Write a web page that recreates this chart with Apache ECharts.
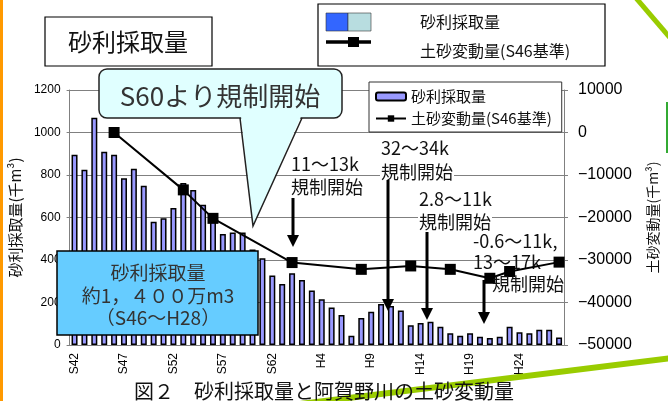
<!DOCTYPE html>
<html>
<head>
<meta charset="utf-8">
<script src="https://cdn.jsdelivr.net/npm/echarts@6/dist/echarts.min.js"></script>
<style>
  html, body { margin: 0; padding: 0; background: #fff; }
  #chart { width: 668px; height: 401px; }
</style>
</head>
<body>
<div id="chart"></div>
<script>
// 年度 S42〜H28
var years = ['S42', 'S43', 'S44', 'S45', 'S46', 'S47', 'S48', 'S49', 'S50', 'S51',
  'S52', 'S53', 'S54', 'S55', 'S56', 'S57', 'S58', 'S59', 'S60', 'S61',
  'S62', 'S63', 'H1', 'H2', 'H3', 'H4', 'H5', 'H6', 'H7', 'H8',
  'H9', 'H10', 'H11', 'H12', 'H13', 'H14', 'H15', 'H16', 'H17', 'H18',
  'H19', 'H20', 'H21', 'H22', 'H23', 'H24', 'H25', 'H26', 'H27', 'H28']

// 砂利採取量 (千m3)
var gravel = [895, 825, 1070, 910, 895, 785, 830, 750, 580, 597,
  645, 762, 730, 660, 600, 522, 530, 530, 450, 408,
  327, 287, 338, 306, 256, 215, 177, 141, 44, 127,
  157, 193, 184, 162, 93, 104, 110, 86, 55, 44,
  55, 39, 33, 39, 86, 60, 55, 72, 72, 35]

// 土砂変動量 (S46基準, 千m3) 測量年のみ
var sedimentYears = ['S46', 'S53', 'S56', 'H1', 'H8', 'H13', 'H17', 'H21', 'H23', 'H28']
var sedimentValues = [0, -13500, -20200, -30600, -32200, -31400, -32200, -34300, -32700, -30500]

var sediment = years.map(function (y) {
  var k = sedimentYears.indexOf(y)
  return k < 0 ? null : sedimentValues[k]
})

var jp = '"Noto Sans CJK JP", sans-serif'
var num = '"Liberation Sans", Arial, sans-serif'

function arrow (x, y1, y2) {
  return [
    { type: 'line', z: 120, shape: { x1: x, y1: y1, x2: x, y2: y2 - 10 }, style: { stroke: '#000', lineWidth: 3 } },
    { type: 'polygon', z: 120, shape: { points: [[x - 6, y2 - 12], [x + 6, y2 - 12], [x, y2]] }, style: { fill: '#000' } }
  ]
}

function label (text, x, y, bg, z) {
  var st = { text: text, fontSize: 18, fontFamily: jp, fill: '#111', textVerticalAlign: 'middle' }
  if (bg) {
    st.backgroundColor = '#fff'
    st.padding = [0, 1]
  }
  return { type: 'text', z: z || 110, x: x, y: y, style: st }
}

var graphics = [
  // 左端のオレンジ線
  { type: 'rect', z: 100, shape: { x: 0, y: 0, width: 3, height: 401 }, style: { fill: '#ff9900' } },
  // 緑の装飾線
  { type: 'line', z: 100, shape: { x1: 636, y1: -2, x2: 672, y2: 40 }, style: { stroke: '#99cc00', lineWidth: 5 } },
  { type: 'line', z: 100, shape: { x1: 667, y1: 102, x2: 667, y2: 153 }, style: { stroke: '#33aa33', lineWidth: 2 } },
  { type: 'line', z: 100, shape: { x1: 300, y1: 404, x2: 672, y2: 358 }, style: { stroke: '#99cc00', lineWidth: 6 } },

  // 図タイトル
  {
    type: 'text', z: 110, x: 324, y: 391,
    style: { text: '図２　砂利採取量と阿賀野川の土砂変動量', fontSize: 20, fontFamily: jp, fill: '#111', textAlign: 'center', textVerticalAlign: 'middle' }
  },

  // 左上の見出し
  { type: 'rect', z: 100, shape: { x: 45, y: 17, width: 167, height: 49 }, style: { fill: '#fff', stroke: '#000', lineWidth: 1.2 } },
  { type: 'text', z: 101, x: 128, y: 42, style: { text: '砂利採取量', fontSize: 24, fontFamily: jp, fill: '#111', textAlign: 'center', textVerticalAlign: 'middle' } },

  // 右上の凡例
  { type: 'rect', z: 100, shape: { x: 318, y: 4, width: 287, height: 62 }, style: { fill: '#fff', stroke: '#000', lineWidth: 1.2 } },
  { type: 'rect', z: 101, shape: { x: 326, y: 13, width: 22, height: 18 }, style: { fill: '#3366ff', stroke: '#333', lineWidth: 0.6 } },
  { type: 'rect', z: 101, shape: { x: 348, y: 13, width: 23, height: 18 }, style: { fill: '#b8dde0', stroke: '#333', lineWidth: 0.6 } },
  { type: 'line', z: 101, shape: { x1: 326, y1: 42, x2: 371, y2: 42 }, style: { stroke: '#000', lineWidth: 3.5 } },
  { type: 'rect', z: 102, shape: { x: 348, y: 37, width: 11, height: 10 }, style: { fill: '#000' } },
  { type: 'text', z: 101, x: 420, y: 22, style: { text: '砂利採取量', fontSize: 16, fontFamily: jp, fill: '#111', textVerticalAlign: 'middle' } },
  { type: 'text', z: 101, x: 420, y: 51, style: { text: '土砂変動量(S46基準)', fontSize: 16, fontFamily: jp, fill: '#111', textVerticalAlign: 'middle' } },

  // 吹き出し
  { type: 'rect', z: 105, shape: { x: 99, y: 69, width: 243, height: 49, r: 8 }, style: { fill: '#e0ffff', stroke: '#222', lineWidth: 1.5 } },
  { type: 'polygon', z: 106, shape: { points: [[241, 116.5], [301, 116.5], [253, 226]] }, style: { fill: '#e0ffff' } },
  { type: 'polyline', z: 106, shape: { points: [[240, 118], [253, 226], [302, 118]] }, style: { stroke: '#222', lineWidth: 1.5, fill: null } },
  { type: 'text', z: 107, x: 220, y: 96, style: { text: 'S60より規制開始', fontSize: 26, fontFamily: jp, fill: '#333', textAlign: 'center', textVerticalAlign: 'middle' } },

  // 水色の総量ボックス
  { type: 'rect', z: 105, shape: { x: 57, y: 251, width: 201, height: 84 }, style: { fill: '#66ccff', stroke: '#000', lineWidth: 1.5 } },
  { type: 'text', z: 106, x: 158, y: 273, style: { text: '砂利採取量', fontSize: 19, fontFamily: jp, fill: '#333', textAlign: 'center', textVerticalAlign: 'middle' } },
  { type: 'text', z: 106, x: 158, y: 296, style: { text: '約1，４００万m3', fontSize: 19, fontFamily: jp, fill: '#333', textAlign: 'center', textVerticalAlign: 'middle' } },
  { type: 'text', z: 106, x: 158, y: 318, style: { text: '（S46～H28）', fontSize: 19, fontFamily: jp, fill: '#333', textAlign: 'center', textVerticalAlign: 'middle' } },

  // 規制開始の注記
  label('11～13k', 290, 164, true),
  label('規制開始', 290, 187, true),
  label('32～34k', 380, 148, true),
  label('規制開始', 380, 172, true),
  label('2.8～11k', 418, 199, true),
  label('規制開始', 418, 222, true),
  label('-0.6～11k,', 473, 241, false),
  label('13～17k', 473, 262, false, 1),
  label('規制開始', 492, 284, false)
].concat(arrow(293, 198, 247), arrow(388, 180, 311), arrow(427, 232, 320), arrow(484, 280, 324))

var chart = echarts.init(document.getElementById('chart'))
chart.setOption({
  animation: false,
  textStyle: { fontFamily: num },
  grid: { left: 68, right: 100, top: 90, bottom: 56 },
  legend: {
    orient: 'vertical',
    left: 369,
    top: 82,
    itemWidth: 30,
    itemHeight: 8,
    itemGap: 7,
    padding: [7, 10, 6, 6],
    backgroundColor: '#fff',
    borderColor: '#333',
    borderWidth: 1,
    textStyle: { fontSize: 15, fontFamily: jp, color: '#111' },
    data: ['砂利採取量', '土砂変動量(S46基準)']
  },
  xAxis: {
    type: 'category',
    data: years,
    axisLine: { lineStyle: { color: '#808080' } },
    axisTick: { show: false },
    axisLabel: { interval: 4, rotate: 90, fontSize: 12, color: '#000', margin: 8, fontFamily: num }
  },
  yAxis: [
    {
      type: 'value',
      min: 0,
      max: 1200,
      interval: 200,
      name: '砂利採取量(千m³)',
      nameLocation: 'middle',
      nameRotate: 90,
      nameGap: 38,
      nameTextStyle: { fontSize: 15, fontFamily: jp, color: '#111' },
      axisLine: { show: true, lineStyle: { color: '#808080' } },
      axisTick: { show: true, length: 3, lineStyle: { color: '#808080' } },
      axisLabel: { fontSize: 12, color: '#000', margin: 9, formatter: function (v) { return String(v) } },
      splitLine: { lineStyle: { color: '#808080', width: 1 } }
    },
    {
      type: 'value',
      min: -50000,
      max: 10000,
      interval: 10000,
      name: '土砂変動量(千m³)',
      nameLocation: 'middle',
      nameRotate: 90,
      nameGap: 82,
      nameTextStyle: { fontSize: 14, fontFamily: jp, color: '#111' },
      axisLine: { show: true, lineStyle: { color: '#808080' } },
      axisTick: { show: true, length: 4, lineStyle: { color: '#808080' } },
      axisLabel: {
        fontSize: 16, color: '#000', margin: 14,
        formatter: function (v) { return v < 0 ? '−' + String(-v) : String(v) }
      },
      splitLine: { show: false }
    }
  ],
  series: [
    {
      name: '砂利採取量',
      type: 'bar',
      data: gravel,
      barWidth: 6,
      itemStyle: { color: '#9999ff', borderColor: '#000', borderWidth: 1.5 }
    },
    {
      name: '土砂変動量(S46基準)',
      type: 'line',
      yAxisIndex: 1,
      data: sediment,
      connectNulls: true,
      showSymbol: true,
      showAllSymbol: true,
      symbol: 'rect',
      symbolSize: 11,
      lineStyle: { color: '#000', width: 2 },
      itemStyle: { color: '#000' },
      z: 3
    }
  ],
  graphic: graphics
})
</script>
</body>
</html>
